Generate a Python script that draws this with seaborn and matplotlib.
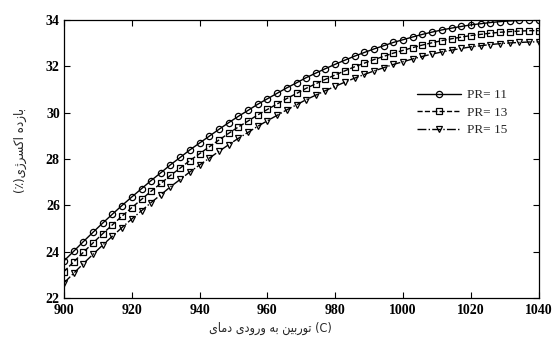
import matplotlib
matplotlib.use("Agg")
import matplotlib.pyplot as plt
import seaborn as sns
import pandas as pd

# Turbine inlet temperature (C)
inlet_temp = [
    900.0, 902.9, 905.7, 908.6, 911.4, 914.3, 917.1, 920.0, 922.9, 925.7,
    928.6, 931.4, 934.3, 937.1, 940.0, 942.9, 945.7, 948.6, 951.4, 954.3,
    957.1, 960.0, 962.9, 965.7, 968.6, 971.4, 974.3, 977.1, 980.0, 982.9,
    985.7, 988.6, 991.4, 994.3, 997.1, 1000.0, 1002.9, 1005.7, 1008.6, 1011.4,
    1014.3, 1017.1, 1020.0, 1022.9, 1025.7, 1028.6, 1031.4, 1034.3, 1037.1, 1040.0,
]

# Exergy efficiency (%) for each pressure ratio
eff_pr11 = [
    23.60, 24.02, 24.43, 24.84, 25.23, 25.62, 25.99, 26.36, 26.72, 27.07,
    27.41, 27.75, 28.07, 28.39, 28.69, 28.99, 29.28, 29.57, 29.84, 30.10,
    30.36, 30.60, 30.84, 31.07, 31.29, 31.51, 31.71, 31.90, 32.09, 32.27,
    32.44, 32.60, 32.75, 32.89, 33.03, 33.15, 33.27, 33.38, 33.48, 33.57,
    33.65, 33.72, 33.79, 33.84, 33.89, 33.93, 33.96, 33.98, 34.00, 34.00,
]
eff_pr13 = [
    23.14, 23.56, 23.97, 24.38, 24.77, 25.16, 25.53, 25.90, 26.26, 26.61,
    26.95, 27.29, 27.61, 27.93, 28.23, 28.53, 28.82, 29.11, 29.38, 29.64,
    29.90, 30.14, 30.38, 30.61, 30.83, 31.05, 31.25, 31.44, 31.63, 31.81,
    31.98, 32.14, 32.29, 32.43, 32.57, 32.69, 32.81, 32.92, 33.02, 33.11,
    33.19, 33.26, 33.33, 33.38, 33.43, 33.47, 33.50, 33.52, 33.54, 33.54,
]
eff_pr15 = [
    22.65, 23.07, 23.48, 23.89, 24.28, 24.67, 25.04, 25.41, 25.77, 26.12,
    26.46, 26.80, 27.12, 27.44, 27.74, 28.04, 28.33, 28.62, 28.89, 29.15,
    29.41, 29.65, 29.89, 30.12, 30.34, 30.56, 30.76, 30.95, 31.14, 31.32,
    31.49, 31.65, 31.80, 31.94, 32.08, 32.20, 32.32, 32.43, 32.53, 32.62,
    32.70, 32.77, 32.84, 32.89, 32.94, 32.98, 33.01, 33.03, 33.05, 33.06,
]

series_labels = ["PR= 11", "PR= 13", "PR= 15"]
x_ticks = [900, 920, 940, 960, 980, 1000, 1020, 1040]
y_ticks = [22, 24, 26, 28, 30, 32, 34]

# Persian axis titles written with contextual letter forms in display order
xlabel_text = (
    "\uFBFC\uFE8E\uFEE3\uFEA9" + " "
    + "\uFBFC\uFEA9\uFEED\uFEAD\uFEED" + " "
    + "\uFEEA\uFE91" + " "
    + "\uFEE6\uFBFF\uFE91\uFEAD\uFEEE\uFE97" + " (C)"
)
ylabel_text = (
    "(\u066A)" + "\uFBFC\uFB8A\uFEAE\uFEB4\uFB90\uFE8D" + " "
    + "\uFEE9\uFEA9\uFEAF\uFE8E\uFE91"
)

df = pd.DataFrame({
    "temp": inlet_temp * 3,
    "eff": eff_pr11 + eff_pr13 + eff_pr15,
    "pr": [series_labels[0]] * len(inlet_temp)
          + [series_labels[1]] * len(inlet_temp)
          + [series_labels[2]] * len(inlet_temp),
})

sns.set_style("white")
plt.rcParams["font.family"] = ["Liberation Serif", "DejaVu Serif"]

fig = plt.figure(figsize=(5.56, 3.39), dpi=100)
ax = fig.add_axes([0.115, 0.121, 0.854, 0.820])

styles = {
    series_labels[0]: dict(linestyle="-", marker="o", markersize=4.5),
    series_labels[1]: dict(linestyle="--", marker="s", markersize=4.5),
    series_labels[2]: dict(linestyle="-.", marker="v", markersize=5.0),
}
for label in series_labels:
    sub = df[df["pr"] == label]
    sns.lineplot(
        data=sub, x="temp", y="eff", ax=ax, color="black", linewidth=1.0,
        markerfacecolor="none", markeredgecolor="black", markeredgewidth=0.9,
        label=label, **styles[label],
    )

ax.set_xlim(900, 1040)
ax.set_ylim(22, 34)
ax.set_xticks(x_ticks)
ax.set_yticks(y_ticks)
ax.set_xticklabels([str(v) for v in x_ticks], fontsize=10, fontweight="bold")
ax.set_yticklabels([str(v) for v in y_ticks], fontsize=10, fontweight="bold")
ax.tick_params(direction="in", length=4, width=0.8, top=True, right=True,
               bottom=True, left=True, colors="black")
ax.tick_params(axis="x", pad=4)
ax.tick_params(axis="y", pad=3)
for sp in ax.spines.values():
    sp.set_color("black")
    sp.set_linewidth(0.9)

ax.set_xlabel(xlabel_text, fontsize=9, family=["DejaVu Sans"],
              fontstretch="condensed")
ax.xaxis.set_label_coords(0.435, -0.085)
ax.set_ylabel(ylabel_text, fontsize=9.5, family=["DejaVu Sans"],
              fontstretch="condensed")
ax.yaxis.set_label_coords(-0.078, 0.53)

leg = ax.legend(loc="upper left", bbox_to_anchor=(0.733, 0.77), frameon=False,
                fontsize=9.5, handlelength=3.3, handletextpad=0.5,
                labelspacing=0.4, borderaxespad=0)

fig.savefig("out.png", dpi=100)
